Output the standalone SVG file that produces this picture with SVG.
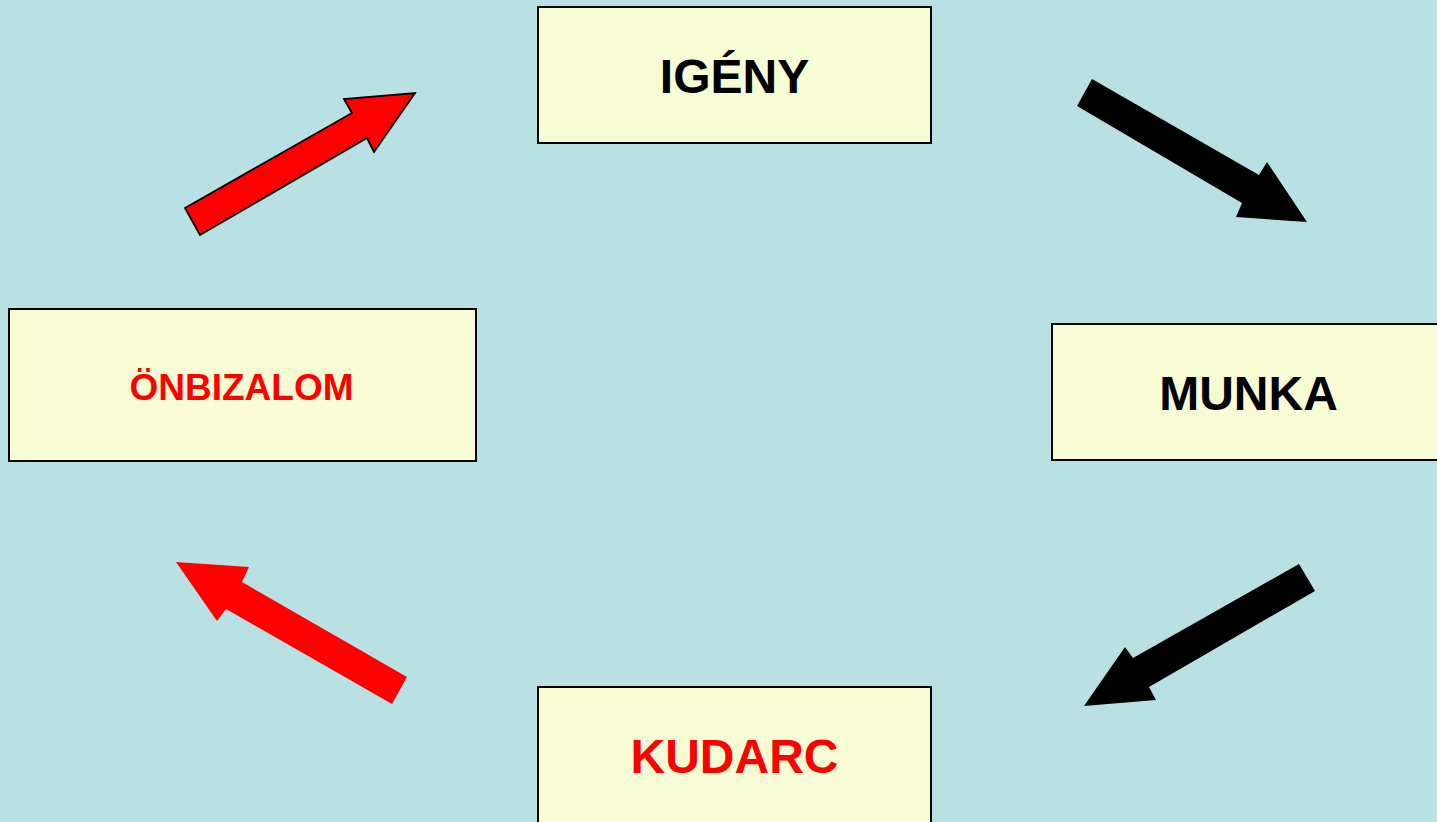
<svg xmlns="http://www.w3.org/2000/svg" width="1437" height="822" viewBox="0 0 1437 822">
<style>
.box{fill:#F8FCD4;stroke:#000;stroke-width:2}
.t{font-family:"Liberation Sans",Arial,sans-serif;font-weight:bold;text-anchor:middle}
.blk{fill:#000}
.red{fill:#FF0000}
</style>
<rect width="1437" height="822" fill="#B9E0E3"/>
<g id="connectors">
<polygon id="a1" points="185,208 352,113 344,99 415,93 374,152 367,138 200,235" fill="#FF0000" stroke="#000" stroke-width="1.8" stroke-linejoin="miter"/>
<polygon id="a2" points="1092,79 1259,175 1267,162 1307,222 1236,217 1242,203 1077,106" fill="#000"/>
<polygon id="a3" points="1299,564 1315,591 1149,687 1156,700 1084,706 1125,647 1133,658" fill="#000"/>
<polygon id="a4" points="176,562 249,567 242,582 407,677 392,704 226,609 217,621" fill="#FF0000"/>
</g>
<g id="igeny">
<rect class="box" x="538" y="7" width="393" height="136"/>
<text class="t blk" x="734.5" y="93" font-size="48">IGÉNY</text>
</g>
<g id="munka">
<rect class="box" x="1052" y="324" width="400" height="136"/>
<text class="t blk" x="1248.5" y="410" font-size="48">MUNKA</text>
</g>
<g id="kudarc">
<rect class="box" x="538" y="687" width="393" height="150"/>
<text class="t red" x="734.5" y="773" font-size="48">KUDARC</text>
</g>
<g id="onbizalom">
<rect class="box" x="9" y="309" width="467" height="152"/>
<text class="t red" x="241.5" y="400" font-size="37">ÖNBIZALOM</text>
</g>
</svg>
